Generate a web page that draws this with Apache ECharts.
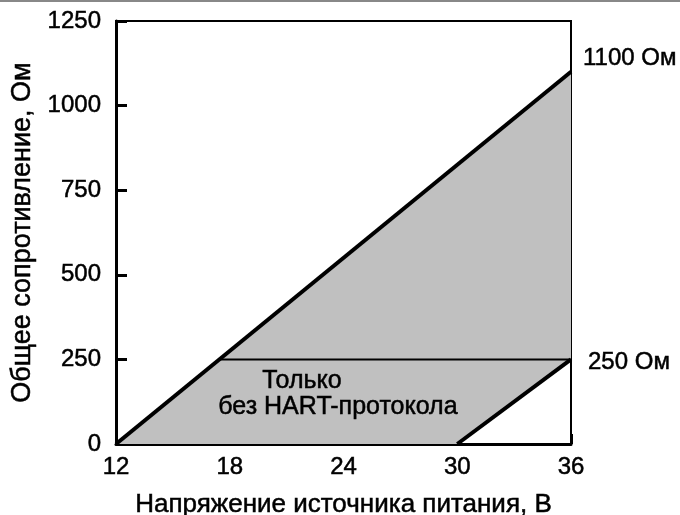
<!DOCTYPE html>
<html><head><meta charset="utf-8">
<script src="https://cdn.jsdelivr.net/npm/echarts@6/dist/echarts.min.js"></script>
<style>html,body{margin:0;padding:0;background:#fff}#c{width:680px;height:515px}</style>
</head><body><div id="c"></div>
<script>
const xTicks = [12, 18, 24, 30, 36];
const yTicks = [0, 250, 500, 750, 1000, 1250];
const regionPolygon = [[12, 0], [36, 1100], [36, 250], [30, 0]];
const upperLine = [[12, 0], [36, 1100]];
const hartLine = [[17.45, 250], [36, 250]];
const lowerLine = [[30, 0], [36, 250]];
const endLabels = [[36, 1100, '1100 Ом'], [36, 250, '250 Ом']];
const xName = 'Напряжение источника питания, В';
const yName = 'Общее сопротивление, Ом';
const noteLines = ['Только', 'без HART-протокола'];

const FONT = 'Liberation Sans, Arial, sans-serif';
const heavy = {textBorderColor: '#000', textBorderWidth: 0.5};
const chart = echarts.init(document.getElementById('c'), null, {renderer: 'canvas'});
chart.setOption({
  animation: false,
  backgroundColor: '#fff',
  grid: {left: 116, right: 109, top: 21, bottom: 71, show: true, borderColor: '#000', borderWidth: 2,
    backgroundColor: 'transparent', containLabel: false, outerBoundsMode: 'none'},
  xAxis: {
    type: 'value', min: xTicks[0], max: xTicks[xTicks.length - 1], interval: 6,
    name: xName, nameLocation: 'middle', nameGap: 48,
    nameTextStyle: Object.assign({fontFamily: FONT, fontSize: 26, color: '#000'}, heavy),
    axisLine: {show: true, lineStyle: {color: '#000', width: 3}},
    axisTick: {show: true, inside: true, length: 10, lineStyle: {color: '#000', width: 3}},
    axisLabel: Object.assign({fontFamily: FONT, fontSize: 24, color: '#000', margin: 11, formatter: v => String(v)}, heavy),
    splitLine: {show: false}
  },
  yAxis: {
    type: 'value', min: yTicks[0], max: yTicks[yTicks.length - 1], interval: 250,
    name: yName, nameLocation: 'middle', nameGap: 79, nameRotate: 90,
    nameTextStyle: Object.assign({fontFamily: FONT, fontSize: 27, color: '#000'}, heavy),
    axisLine: {show: true, lineStyle: {color: '#000', width: 3}},
    axisTick: {show: true, inside: true, length: 11, lineStyle: {color: '#000', width: 3}},
    axisLabel: Object.assign({fontFamily: FONT, fontSize: 24, color: '#000', margin: 15, formatter: v => String(v)}, heavy),
    splitLine: {show: false}
  },
  series: [
    {
      type: 'custom', silent: true, z: 1,
      data: [0],
      renderItem: function (params, api) {
        return {
          type: 'polygon',
          shape: {points: regionPolygon.map(p => api.coord(p))},
          style: {fill: '#c0c0c0'}
        };
      }
    },
    {type: 'line', data: hartLine, symbol: 'none', z: 3, lineStyle: {color: '#000', width: 2}},
    {type: 'line', data: upperLine, symbol: 'none', z: 4, lineStyle: {color: '#000', width: 4}},
    {type: 'line', data: lowerLine, symbol: 'none', z: 4, lineStyle: {color: '#000', width: 4}},
    {
      type: 'scatter', symbolSize: 0, z: 5, silent: true,
      itemStyle: {opacity: 1, color: '#000'},
      data: endLabels.map(d => ({value: [d[0], d[1]], name: d[2]})),
      label: Object.assign({show: true, position: 'right', distance: 12, formatter: p => p.name,
        fontFamily: FONT, fontSize: 24, color: '#000', opacity: 1}, heavy),
      labelLayout: function (p) { return p.dataIndex === 0 ? {dy: -13} : {dy: 3, dx: 5}; }
    }
  ],
  graphic: [
    {type: 'rect', shape: {x: 0, y: 0, width: 680, height: 2}, style: {fill: '#888'}},
    {type: 'text', left: 262, top: 368, style: {text: noteLines[0], font: '25px ' + FONT, fill: '#000', stroke: '#000', lineWidth: 0.5}, z: 10},
    {type: 'text', left: 218, top: 394, style: {text: noteLines[1], font: '25px ' + FONT, fill: '#000', stroke: '#000', lineWidth: 0.5}, z: 10}
  ]
});
</script></body></html>
